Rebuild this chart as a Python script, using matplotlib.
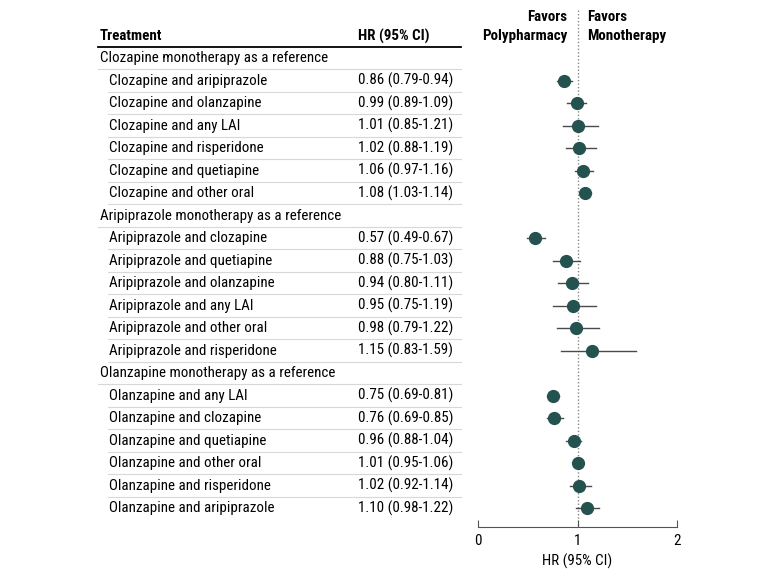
import matplotlib
matplotlib.use("Agg")
from matplotlib import pyplot as plt
from matplotlib import transforms

plt.rcParams['font.family'] = ['Roboto Condensed', 'Roboto', 'DejaVu Sans']

groups = ["Clozapine monotherapy as a reference",
          "Aripiprazole monotherapy as a reference",
          "Olanzapine monotherapy as a reference"]

labels = [
    ["Clozapine and aripiprazole", "Clozapine and olanzapine", "Clozapine and any LAI",
     "Clozapine and risperidone", "Clozapine and quetiapine", "Clozapine and other oral"],
    ["Aripiprazole and clozapine", "Aripiprazole and quetiapine", "Aripiprazole and olanzapine",
     "Aripiprazole and any LAI", "Aripiprazole and other oral", "Aripiprazole and risperidone"],
    ["Olanzapine and any LAI", "Olanzapine and clozapine", "Olanzapine and quetiapine",
     "Olanzapine and other oral", "Olanzapine and risperidone", "Olanzapine and aripiprazole"],
]
hr = [
    [0.86, 0.99, 1.01, 1.02, 1.06, 1.08],
    [0.57, 0.88, 0.94, 0.95, 0.98, 1.15],
    [0.75, 0.76, 0.96, 1.01, 1.02, 1.10],
]
lo = [
    [0.79, 0.89, 0.85, 0.88, 0.97, 1.03],
    [0.49, 0.75, 0.80, 0.75, 0.79, 0.83],
    [0.69, 0.69, 0.88, 0.95, 0.92, 0.98],
]
hi = [
    [0.94, 1.09, 1.21, 1.19, 1.16, 1.14],
    [0.67, 1.03, 1.11, 1.19, 1.22, 1.59],
    [0.81, 0.85, 1.04, 1.06, 1.14, 1.22],
]

fig = plt.figure(figsize=(7.8, 5.73), dpi=100)
ax = fig.add_axes([478 / 780, 1 - 527 / 573, 199 / 780, 527 / 573])

# rows: group header then items
rows = []
for g in range(len(groups)):
    rows.append(("group", groups[g], None, None, None))
    for k in range(len(labels[g])):
        rows.append(("item", labels[g][k], hr[g][k], lo[g][k], hi[g][k]))

n = len(rows)
ax.set_ylim(20.84, -2.58)
ax.set_xlim(0, 2)

tr = transforms.blended_transform_factory(fig.transFigure, ax.transData)
x_group = 100 / 780
x_item = 109 / 780
x_hr = 358 / 780
x_line0 = 98 / 780
x_line1 = 461 / 780
x_line_item = 108 / 780
fs = 10.8

for i, (kind, text, h, l, u) in enumerate(rows):
    if kind == "group":
        ax.text(x_group, i, text, transform=tr, va='center', ha='left', fontsize=fs,
                color='black', clip_on=False)
    else:
        ax.text(x_item, i, text, transform=tr, va='center', ha='left', fontsize=fs,
                color='black', clip_on=False)
        ax.text(x_hr, i, "{:.2f} ({:.2f}-{:.2f})".format(h, l, u), transform=tr,
                va='center', ha='left', fontsize=fs, color='black', clip_on=False)
        ax.plot([l, u], [i, i], color='#4a4a4a', lw=1.0, zorder=2)
        ax.plot(h, i, 'o', color='#24524e', markersize=8.5, zorder=3)
    if i < n - 1:
        x0 = x_line0 if kind == "group" else x_line_item
        ax.plot([x0, x_line1], [i + 0.5, i + 0.5], transform=tr, color='#d8d8d8',
                lw=0.8, clip_on=False)

# header
ax.text(x_group, -0.98, "Treatment", transform=tr, va='center', ha='left', fontsize=fs,
        fontweight='semibold', clip_on=False)
ax.text(x_hr, -0.98, "HR (95% CI)", transform=tr, va='center', ha='left', fontsize=fs,
        fontweight='semibold', clip_on=False)
ax.plot([x_line0, x_line1], [-0.5, -0.5], transform=tr, color='black', lw=1.3,
        clip_on=False)

ax.text(0.9, -1.4, "Favors\nPolypharmacy", ha='right', va='center', fontsize=fs,
        fontweight='semibold', linespacing=1.4, clip_on=False)
ax.text(1.1, -1.4, "Favors\nMonotherapy", ha='left', va='center', fontsize=fs,
        fontweight='semibold', linespacing=1.4, clip_on=False)

ax.plot([1, 1], [-2.15, 20.84], color='#888888', lw=1.0, ls=(0, (1, 1.5)), zorder=1,
        clip_on=False)

for s in ['left', 'right', 'top']:
    ax.spines[s].set_visible(False)
ax.spines['bottom'].set_color('#555555')
ax.set_yticks([])
ax.set_xticks([0, 1, 2])
ax.set_xticklabels(['0', '1', '2'])
ax.tick_params(axis='x', direction='in', length=5, color='#555555', labelsize=fs, pad=5)
ax.set_xlabel("HR (95% CI)", fontsize=fs, labelpad=4)
ax.patch.set_alpha(0)

fig.savefig("out.png", dpi=100)
